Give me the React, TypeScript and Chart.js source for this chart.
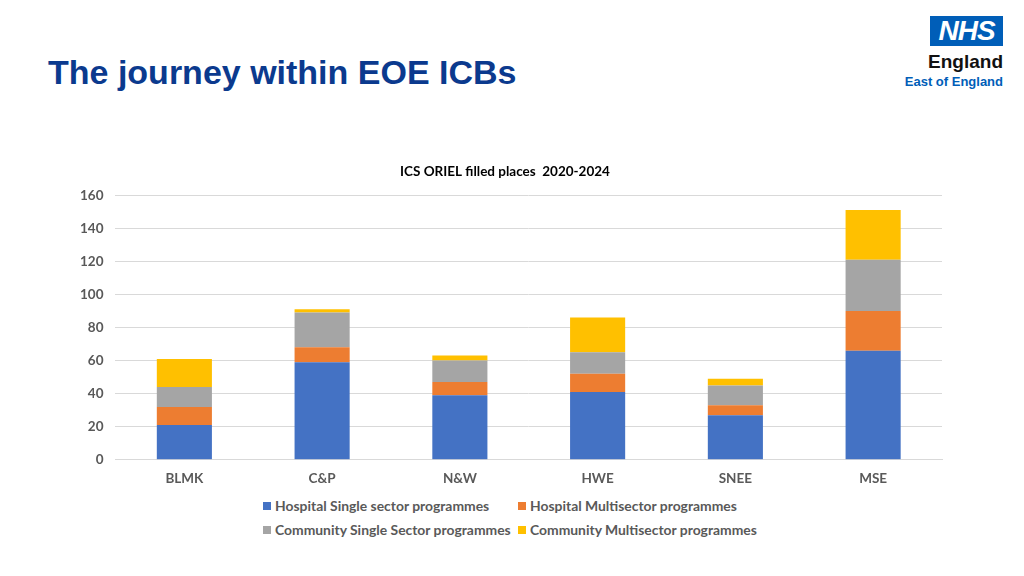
import React, { useEffect, useRef } from "react";
import { Chart, registerables } from "chart.js";

Chart.register(...registerables);

const categories = ["BLMK", "C&P", "N&W", "HWE", "SNEE", "MSE"];
const hospitalSingle = [21, 59, 39, 41, 27, 66];
const hospitalMulti = [11, 9, 8, 11, 6, 24];
const communitySingle = [12, 21, 13, 13, 12, 31];
const communityMulti = [17, 2, 3, 21, 4, 30];
const seriesNames = [
  "Hospital Single sector programmes",
  "Hospital Multisector programmes",
  "Community Single Sector programmes",
  "Community Multisector programmes",
];
const seriesColors = ["#4472C4", "#ED7D31", "#A5A5A5", "#FFC000"];
const chartTitle = "ICS ORIEL filled places  2020-2024";
const pageTitle = "The journey within EOE ICBs";

const FONT = "Lato, 'Open Sans', sans-serif";
const FS = 13.5;

function NhsLogo() {
  return (
    <div style={{ position: "absolute", right: 21, top: 16, textAlign: "right", fontFamily: "'Liberation Sans', Arial, sans-serif" }}>
      <div style={{ display: "inline-block", background: "#005EB8", color: "#fff", fontWeight: 700, fontStyle: "italic", fontSize: 28, lineHeight: "30px", height: 30, width: 73, textAlign: "center", letterSpacing: -1 }}>NHS</div>
      <div style={{ color: "#111", fontWeight: 700, fontSize: 19, lineHeight: "22px", marginTop: 5 }}>England</div>
      <div style={{ color: "#005EB8", fontWeight: 700, fontSize: 13, lineHeight: "16px", marginTop: 1 }}>East of England</div>
    </div>
  );
}

function Legend() {
  const item = (i: number, left: number, top: number) => (
    <div key={i} style={{ position: "absolute", left, top, display: "flex", alignItems: "center", whiteSpace: "nowrap", fontFamily: FONT, fontWeight: 700, fontSize: 13.9, color: "#595959" }}>
      <span style={{ display: "inline-block", width: 8, height: 8, background: seriesColors[i], marginRight: 4 }} />
      <span style={{ lineHeight: "18px" }}>{seriesNames[i]}</span>
    </div>
  );
  return (
    <>
      {item(0, 263, 497)}
      {item(1, 518, 497)}
      {item(2, 263, 521)}
      {item(3, 518, 521)}
    </>
  );
}

export default function App() {
  const ref = useRef<HTMLCanvasElement | null>(null);
  useEffect(() => {
    if (!ref.current) return;
    const data = [hospitalSingle, hospitalMulti, communitySingle, communityMulti];
    const chart = new Chart(ref.current, {
      type: "bar",
      data: {
        labels: categories,
        datasets: data.map((d, i) => ({
          label: seriesNames[i],
          data: d,
          backgroundColor: seriesColors[i],
          borderWidth: 0,
          categoryPercentage: 0.4,
          barPercentage: 1,
        })),
      },
      options: {
        animation: false,
        responsive: false,
        maintainAspectRatio: false,
        layout: { padding: { left: 68, right: 82, top: 6, bottom: 4 } },
        plugins: {
          title: {
            display: true,
            text: chartTitle,
            color: "#000",
            font: { family: FONT, size: FS, weight: "bold" },
            padding: { top: 6, bottom: 15 },
          },
          legend: { display: false },
          tooltip: { enabled: false },
        },
        scales: {
          x: {
            stacked: true,
            grid: { display: false },
            border: { color: "#D9D9D9" },
            ticks: { color: "#595959", font: { family: FONT, size: FS, weight: "bold" }, padding: 3 },
          },
          y: {
            stacked: true,
            min: 0,
            max: 160,
            ticks: { stepSize: 20, color: "#595959", font: { family: FONT, size: FS, weight: "bold" }, padding: 12 },
            grid: { color: "#D9D9D9", drawTicks: false },
            border: { display: false },
          },
        },
      },
    });
    return () => chart.destroy();
  }, []);

  return (
    <div style={{ position: "fixed", left: 0, top: 0, width: 1024, height: 576, background: "#fff", overflow: "hidden" }}>
      <div style={{ position: "absolute", left: 48, top: 53, fontFamily: "'Liberation Sans', Arial, sans-serif", fontWeight: 700, fontSize: 34, lineHeight: "38px", color: "#0B3A8E", whiteSpace: "nowrap" }}>{pageTitle}</div>
      <NhsLogo />
      <div style={{ position: "absolute", left: 0, top: 152, width: 1024, height: 342 }}>
        <canvas ref={ref} width={1024} height={342} style={{ width: 1024, height: 342 }} />
      </div>
      <Legend />
    </div>
  );
}
